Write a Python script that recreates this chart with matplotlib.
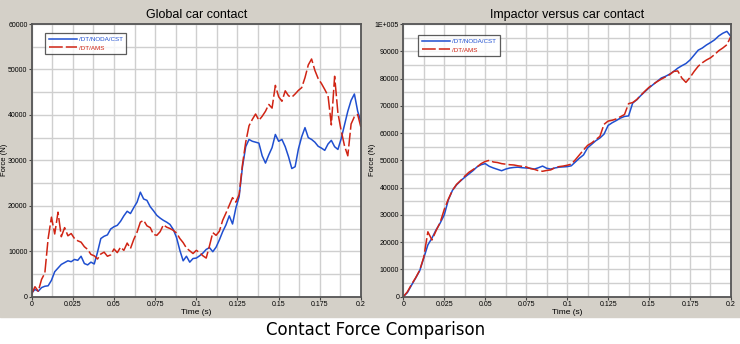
import matplotlib

matplotlib.use("Agg")

import matplotlib.pyplot as plt
import numpy as np
from matplotlib.ticker import FuncFormatter, MultipleLocator

plt.rcParams["font.family"] = ["Liberation Sans", "DejaVu Sans"]

# ---------------------------------------------------------------- data

# left panel: sampled every 2 ms
T_GLOBAL = np.linspace(0, 0.2, 101)
GLOBAL_CST = [
    800, 1600, 1200, 2000, 2300, 2400, 3600, 5500, 6300, 7100,
    7500, 7900, 7700, 8200, 8000, 8900, 7300, 7000, 7600, 7200,
    9800, 12800, 13300, 13600, 14900, 15400, 15700, 16600, 17800, 18800,
    18300, 19600, 20800, 23000, 21500, 21200, 19800, 18900, 17900, 17300,
    16800, 16400, 15900, 14800, 13000, 10200, 7900, 8900, 7600, 8400,
    8500, 9000, 9600, 10400, 10800, 9900, 10900, 12500, 14300, 15800,
    17800, 16000, 19500, 22000, 28500, 33000, 34600, 34200, 34000, 33800,
    31000, 29400, 31200, 32800, 35700, 34200, 34600, 33000, 30800, 28200,
    28600, 32500, 35200, 37200, 35000, 34600, 34000, 33100, 32700, 32200,
    33600, 34400, 33000, 32400, 34800, 37800, 40800, 43200, 44600, 40800,
    38500,
]
GLOBAL_AMS = [
    600, 2200, 1200, 3800, 5200, 12800, 17500, 13800, 18600, 13200,
    15200, 13400, 13900, 12800, 12300, 12000, 11000, 10400, 9300, 9000,
    8300, 9400, 9800, 8900, 9200, 10500, 9700, 10900, 10200, 11800,
    10600, 12600, 14200, 16400, 16800, 15600, 15200, 13700, 13500, 14300,
    15800, 15300, 15000, 14600, 14000, 12800, 11900, 10700, 10100, 9500,
    10200, 9700, 9000, 8500, 11200, 14100, 13500, 14400, 16800, 18400,
    20100, 21800, 20800, 22500, 29000, 34000, 37600, 39000, 40200, 38800,
    39700, 40800, 42300, 41500, 46500, 44000, 43000, 45300, 44200, 43900,
    44600, 45400, 46000, 48200, 51000, 52300, 49800, 48000, 46900, 45600,
    44200, 37800, 48500, 40400, 36500, 33200, 31000, 38000, 39600, 40100,
    37200,
]

# right panel: sampled every 2.5 ms
T_IMPACT = np.linspace(0, 0.2, 81)
IMPACT_CST = [
    0, 1500, 4200, 6800, 9500, 14200, 19000, 21500, 24500, 27000,
    30000, 35500, 39000, 41000, 42500, 43800, 45000, 46200, 47600, 48400,
    48800, 47800, 47200, 46700, 46200, 46800, 47200, 47400, 47500, 47300,
    47200, 47100, 46800, 47300, 47900, 47100, 46800, 47200, 47500, 47600,
    47700, 48000, 49400, 50800, 52000, 54600, 55900, 57200, 58200, 59600,
    62800, 63800, 64600, 65500, 66100, 66300, 71000, 72200, 73800, 75200,
    76600, 77800, 79000, 80200, 80800, 81600, 82600, 83800, 84700, 85500,
    86800, 88600, 90400, 91200, 92300, 93200, 94200, 95600, 96600, 97300,
    95400,
]
IMPACT_AMS = [
    0, 1800, 4500, 6900, 9700, 14500, 23800, 20800, 24200, 27200,
    32000, 35800, 39000, 41200, 42600, 44200, 45600, 46600, 47600, 48800,
    49600, 50000, 49400, 49200, 48800, 48600, 48400, 48300, 48000, 47800,
    47600, 47000, 46700, 46200, 46000, 46300, 46500, 47300, 47700, 47900,
    48200, 48600, 50200, 52000, 53800, 55500, 56400, 57600, 58800, 63200,
    64400, 64700, 65200, 66000, 66800, 70800, 71200, 72300, 73900, 75400,
    76800, 77900, 78900, 79800, 80600, 81400, 82600, 82800, 80200, 78600,
    80400, 82600, 84500, 85800, 86800, 87600, 88800, 90200, 91200, 92400,
    95500,
]

LABEL_CST = "/DT/NODA/CST"
LABEL_AMS = "/DT/AMS"

BLUE = "#1f4fd0"
RED = "#d02414"
PANEL_BG = "#d4d0c8"
GRID = "#cfcfcf"


def style_axes(ax, ymax, ystep, title, ylabel_x, fmt=None):
    ax.set_xlim(0, 0.2)
    ax.set_ylim(0, ymax)
    ax.xaxis.set_major_locator(MultipleLocator(0.025))
    ax.xaxis.set_minor_locator(MultipleLocator(0.0125))
    ax.yaxis.set_major_locator(MultipleLocator(ystep))
    ax.yaxis.set_minor_locator(MultipleLocator(ystep / 2))
    ax.xaxis.set_major_formatter(FuncFormatter(lambda v, _: f"{v:g}"))
    ax.yaxis.set_major_formatter(fmt or FuncFormatter(lambda v, _: f"{v:.0f}"))
    ax.grid(which="both", color=GRID, linewidth=1.0)
    ax.set_axisbelow(True)
    ax.tick_params(which="major", length=2, width=0.8, labelsize=5,
                   color="#444444", pad=1)
    ax.tick_params(which="minor", length=0)
    for s in ax.spines.values():
        s.set_color("#555555")
        s.set_linewidth(1.3)
    ax.set_title(title, fontsize=9, pad=4)
    ax.set_xlabel("Time (s)", fontsize=6, labelpad=1)
    ax.set_ylabel("Force (N)", fontsize=5.5)
    ax.yaxis.set_label_coords(ylabel_x, 0.5)


def add_legend(ax, anchor):
    leg = ax.legend(loc="upper left", bbox_to_anchor=anchor, fontsize=4.5,
                    handlelength=4.5, frameon=True, fancybox=False,
                    borderpad=0.6, labelspacing=0.5, handletextpad=0.3,
                    borderaxespad=0)
    leg.get_frame().set_edgecolor("#333333")
    leg.get_frame().set_linewidth(0.9)
    for txt, c in zip(leg.get_texts(), [BLUE, RED]):
        txt.set_color(c)


fig = plt.figure(figsize=(7.4, 3.44), dpi=100)
fig.patches.append(plt.Rectangle((0, 1 - 317 / 344), 1, 317 / 344,
                                 transform=fig.transFigure,
                                 color=PANEL_BG, zorder=-10))

ax1 = fig.add_axes([0.0428, 0.1375, 0.445, 0.7927])
ax1.plot(T_GLOBAL, GLOBAL_CST, color=BLUE, lw=1.1, label=LABEL_CST)
ax1.plot(T_GLOBAL, GLOBAL_AMS, color=RED, lw=1.1, ls=(0, (9, 2)),
         label=LABEL_AMS)
style_axes(ax1, 60000, 10000, "Global car contact", -0.0705)
add_legend(ax1, (0.04, 0.967))

ax2 = fig.add_axes([0.545, 0.1375, 0.4428, 0.7927])
ax2.plot(T_IMPACT, IMPACT_CST, color=BLUE, lw=1.1, label=LABEL_CST)
ax2.plot(T_IMPACT, IMPACT_AMS, color=RED, lw=1.1, ls=(0, (9, 2)),
         label=LABEL_AMS)
style_axes(ax2, 100000, 10000, "Impactor versus car contact", -0.083,
           FuncFormatter(lambda v, _: "1E+005" if v >= 100000 else f"{v:.0f}"))
add_legend(ax2, (0.045, 0.96))

fig.text(0.507, 1 - 330 / 344, "Contact Force Comparison", ha="center",
         va="center", fontsize=12, family="DejaVu Sans")

fig.savefig("out.png", dpi=100)
